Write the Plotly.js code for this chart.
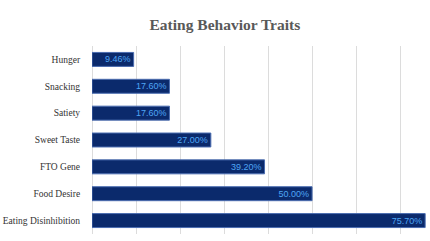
<!DOCTYPE html>
<html>
<head>
<meta charset="utf-8">
<script src="https://cdn.plot.ly/plotly-3.0.1.min.js"></script>
<style>
  html, body { margin: 0; padding: 0; background: #fff; }
  #chart { width: 430px; height: 241px; }
</style>
</head>
<body>
<div id="chart"></div>
<script>
// Eating behaviour traits, share of respondents (%)
const traits = ["Hunger", "Snacking", "Satiety", "Sweet Taste", "FTO Gene", "Food Desire", "Eating Disinhibition"];
const shares = [9.46, 17.60, 17.60, 27.00, 39.20, 50.00, 75.70];

const serif = "Liberation Serif, DejaVu Serif, serif";

const bars = {
  type: "bar",
  orientation: "h",
  x: shares,
  y: traits,
  marker: {
    color: "#0b2a6c",
    line: { color: "#4a6cb0", width: 1 }
  },
  texttemplate: "%{x:.2f}%",
  textposition: "inside",
  insidetextanchor: "end",
  constraintext: "none",
  textangle: 0,
  textfont: { family: "Liberation Sans, sans-serif", size: 9, color: "#4fa6f5" },
  cliponaxis: false,
  hoverinfo: "none"
};

const layout = {
  width: 430,
  height: 241,
  margin: { l: 92, r: 0, t: 46, b: 7 },
  paper_bgcolor: "#ffffff",
  plot_bgcolor: "#ffffff",
  showlegend: false,
  bargap: 0.48,
  title: {
    text: "<b>Eating Behavior Traits</b>",
    font: { family: serif, size: 15.5, color: "#595959" },
    x: 0.523,
    xanchor: "center",
    y: 0.9,
    yanchor: "middle"
  },
  xaxis: {
    range: [0, 76.8],
    dtick: 10,
    showticklabels: false,
    showgrid: true,
    gridcolor: "#dcdcdc",
    gridwidth: 1,
    zeroline: true,
    zerolinecolor: "#dcdcdc",
    zerolinewidth: 1,
    fixedrange: true
  },
  yaxis: {
    autorange: "reversed",
    type: "category",
    showgrid: false,
    zeroline: false,
    ticks: "outside",
    ticklen: 9,
    tickcolor: "rgba(0,0,0,0)",
    tickfont: { family: serif, size: 9.5, color: "#333333" },
    automargin: false,
    fixedrange: true
  }
};

Plotly.newPlot("chart", [bars], layout, { staticPlot: true, displayModeBar: false });
</script>
</body>
</html>
